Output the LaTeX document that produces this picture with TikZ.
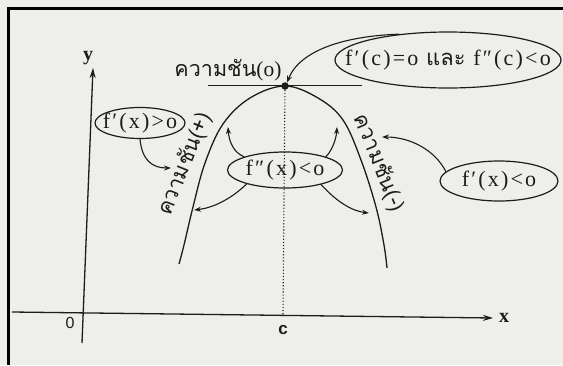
\documentclass[tikz,border=0pt]{standalone}
\usepackage{fontspec}
\setmainfont{Liberation Serif}
\newfontfamily\thaifont[Script=Thai]{Loma}
\newfontfamily\widef[LetterSpace=10]{Liberation Serif}
\newfontfamily\sansf{Liberation Sans}
\usetikzlibrary{shapes.geometric,arrows.meta}
\definecolor{paper}{RGB}{238,238,235}
\definecolor{ink}{RGB}{28,28,28}
\begin{document}
\begin{tikzpicture}[x=1pt,y=-1pt,
  axis/.style={draw=ink, line width=1.3pt, -{Stealth[length=10pt,width=6pt]}},
  curve/.style={draw=ink, line width=1.3pt},
  bubble/.style={ellipse, draw=ink, line width=1.2pt, inner sep=0pt},
  callout/.style={draw=ink, line width=1.1pt, -{Stealth[length=7pt,width=5pt]}},
  lbl/.style={text=ink, inner sep=0pt},
  mathlbl/.style={lbl, font=\widef\fontsize{22}{22}\selectfont},
  thailbl/.style={lbl, font=\thaifont\fontsize{21.5}{21.5}\selectfont}]
\useasboundingbox (0,0) rectangle (563,365);
\fill[paper] (0,0) rectangle (563,365);
\draw[black, line width=3pt] (8,365) -- (8,8) -- (563,8);
% axes
\coordinate (ybot) at (82,343);
\coordinate (ytop) at (93,68);
\coordinate (xleft) at (12,312);
\coordinate (xright) at (493,318);
\draw[axis] (ybot) -- (ytop);
\draw[axis] (xleft) -- (xright);
\node[lbl, font=\fontsize{20}{20}\selectfont\bfseries] (ylab) at (88,58) {y};
\node[lbl, font=\fontsize{20}{20}\selectfont\bfseries] (xlab) at (504,318) {x};
\node[lbl, font=\sansf\fontsize{16}{16}\selectfont] (zero) at (70,323) {0};
\node[lbl, font=\sansf\fontsize{17}{17}\selectfont\bfseries] (clab) at (283,330) {c};
% tangent, peak, dotted line
\coordinate (tl) at (208,85.5);
\coordinate (tr) at (362,85.5);
\draw[curve, line width=1.2pt] (tl) -- (tr);
\node[circle, fill=ink, inner sep=0pt, minimum size=7.5pt] (peak) at (285,86) {};
\coordinate (cfoot) at (283,315);
\draw[ink, line width=1.1pt, dotted] (peak) -- (cfoot);
% parabola
\draw[curve] plot[smooth, tension=0.6] coordinates {(179,264) (184,245) (193,207) (205,163) (223,124) (250,98) (285,86) (318,98) (343,120) (361,160) (376,207) (384,245) (387,268)};
% labels on the curve
\node[thailbl] (slope0) at (228,70) {ความชัน{\rmfamily(o)}};
\node[thailbl, rotate=68] (slopepos) at (185,164) {ความชัน(+)};
\node[thailbl, rotate=-68] (slopeneg) at (379,163) {ความชัน(-)};
% bubbles
\node[bubble, minimum width=226pt, minimum height=56pt] (ecc) at (448,60) {};
\node[mathlbl] (tcc) at (ecc) {f′(c)=o {\thaifont และ} f″(c)<o};
\node[bubble, minimum width=90pt, minimum height=31pt] (e1) at (140,123) {};
\node[mathlbl] (t1) at (e1) {f′(x)>o};
\node[bubble, minimum width=115pt, minimum height=36pt] (e2) at (285,170) {};
\node[mathlbl] (t2) at (e2) {f″(x)<o};
\node[bubble, minimum width=118pt, minimum height=40pt] (e3) at (499,181) {};
\node[mathlbl] (t3) at (e3) {f′(x)<o};
% arrow tips
\coordinate (tipA) at (171,168);
\coordinate (tipUL) at (228,127);
\coordinate (tipUR) at (337,127);
\coordinate (tipLL) at (194,210);
\coordinate (tipLR) at (369,213);
\coordinate (tipE) at (382,137);
% callouts
\draw[callout] (ecc.152) .. controls (345,36) and (300,50) .. (peak.60);
\draw[callout] (e1.south) .. controls (142,160) and (152,168) .. (tipA);
\draw[callout] (e2.162) .. controls (234,153) and (229,142) .. (tipUL);
\draw[callout] (e2.18) .. controls (330,153) and (336,142) .. (tipUR);
\draw[callout] (e2.200) .. controls (230,200) and (212,208) .. (tipLL);
\draw[callout] (e2.338) .. controls (337,202) and (352,211) .. (tipLR);
\draw[callout] (e3.170) .. controls (435,150) and (410,137) .. (tipE);
\end{tikzpicture}
\end{document}
